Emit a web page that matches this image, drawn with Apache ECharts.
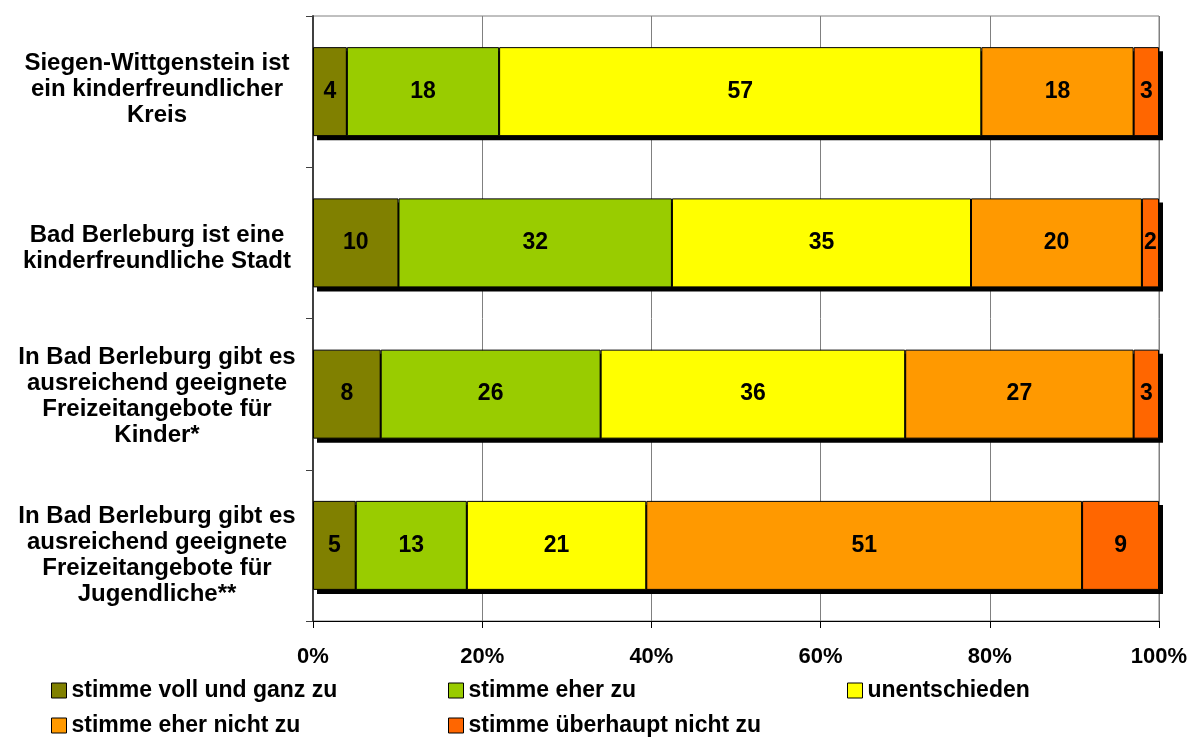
<!DOCTYPE html>
<html>
<head>
<meta charset="utf-8">
<title>Kinderfreundlichkeit</title>
<script src="https://cdn.jsdelivr.net/npm/echarts@6/dist/echarts.min.js"></script>
<style>
    html, body { margin: 0; padding: 0; background: #fff; }
    #chart { width: 1192px; height: 738px; }
</style>
</head>
<body>
<div id="chart"></div>
<script>
// Kategorien (von oben nach unten)
const categories = [
    'Siegen-Wittgenstein ist\nein kinderfreundlicher\nKreis',
    'Bad Berleburg ist eine\nkinderfreundliche Stadt',
    'In Bad Berleburg gibt es\nausreichend geeignete\nFreizeitangebote für\nKinder*',
    'In Bad Berleburg gibt es\nausreichend geeignete\nFreizeitangebote für\nJugendliche**'
]
const seriesNames = [
    'stimme voll und ganz zu',
    'stimme eher zu',
    'unentschieden',
    'stimme eher nicht zu',
    'stimme überhaupt nicht zu'
]
// Werte in Prozent, wie beschriftet
const vollUndGanz = [4, 10, 8, 5]
const eherZu = [18, 32, 26, 13]
const unentschieden = [57, 35, 36, 21]
const eherNicht = [18, 20, 27, 51]
const ueberhauptNicht = [3, 2, 3, 9]
const xTicks = [0, 20, 40, 60, 80, 100]

const colors = ['#808000', '#99CC00', '#FFFF00', '#FF9900', '#FF6600']
const raw = [vollUndGanz, eherZu, unentschieden, eherNicht, ueberhauptNicht]

// jede Zeile auf 100% normiert (Balken enden alle bei 100%)
const rowSums = categories.map((c, i) => raw.reduce((s, arr) => s + arr[i], 0))
const shares = raw.map(arr => arr.map((v, i) => v / rowSums[i] * 100))
const totals = categories.map((c, i) => shares.reduce((s, arr) => s + arr[i], 0))

const font = 'Liberation Sans, Arial, sans-serif'
// kleine vertikale Verschiebung der Achsenbeschriftungen (px, nach unten)
const labelShift = [-2, 5, 2, 10]

const chart = echarts.init(document.getElementById('chart'))

const series = shares.map((arr, si) => ({
    name: seriesNames[si],
    type: 'bar',
    stack: 'total',
    barWidth: 89,
    z: 3,
    data: arr,
    itemStyle: {
        color: colors[si],
        borderColor: '#000',
        borderWidth: 1
    },
    label: {
        show: true,
        position: 'inside',
        color: '#000',
        fontFamily: font,
        fontWeight: 'bold',
        fontSize: 23,
        formatter: p => raw[p.seriesIndex][p.dataIndex]
    },
    emphasis: { disabled: true }
}))

// Schatten hinter den Balken (zweites, versetztes Koordinatensystem)
series.push({
    name: 'schatten',
    type: 'bar',
    xAxisIndex: 1,
    yAxisIndex: 1,
    barWidth: 89,
    z: 1,
    silent: true,
    data: totals,
    itemStyle: { color: '#000' },
    label: { show: false }
})

// Legende: zwei Zeilen, drei Spalten
const legendPos = [[51, 679], [448, 679], [847, 679], [51, 714], [448, 714]]
const legends = seriesNames.map((n, i) => ({
    data: [n],
    left: legendPos[i][0],
    top: legendPos[i][1],
    padding: 0,
    icon: 'rect',
    itemWidth: 15,
    itemHeight: 15,
    itemGap: 0,
    selectedMode: false,
    itemStyle: { borderColor: '#000', borderWidth: 1 },
    textStyle: {
        color: '#000',
        fontFamily: font,
        fontWeight: 'bold',
        fontSize: 23
    }
}))

// Abstandshalter als Rich-Text-Zeile
const rich = {}
labelShift.forEach((s, i) => {
    const h = Math.max(1, Math.abs(s) * 2)
    rich['sp' + i] = { height: h, lineHeight: h, fontSize: 1 }
})

chart.setOption({
    animation: false,
    backgroundColor: '#fff',
    grid: [
        {
            left: 313,
            right: 33,
            top: 16,
            bottom: 117,
            outerBoundsMode: 'none',
            show: true,
            borderColor: '#808080',
            borderWidth: 1
        },
        { left: 317, right: 29, top: 20, bottom: 113, outerBoundsMode: 'none' }
    ],
    legend: legends,
    xAxis: [
        {
            type: 'value',
            gridIndex: 0,
            min: xTicks[0],
            max: xTicks[xTicks.length - 1],
            interval: xTicks[1] - xTicks[0],
            axisLine: { show: true, lineStyle: { color: '#000', width: 1 } },
            axisTick: { show: true, length: 7, lineStyle: { color: '#000' } },
            splitLine: { show: true, lineStyle: { color: '#808080', width: 1 } },
            axisLabel: {
                formatter: '{value}%',
                margin: 25,
                color: '#000',
                fontFamily: font,
                fontWeight: 'bold',
                fontSize: 22
            }
        },
        { type: 'value', gridIndex: 1, min: 0, max: 100, show: false }
    ],
    yAxis: [
        {
            type: 'category',
            gridIndex: 0,
            inverse: true,
            data: categories,
            axisLine: { show: true, lineStyle: { color: '#404040', width: 2 } },
            axisTick: { show: true, length: 7, lineStyle: { color: '#404040' } },
            splitLine: { show: false },
            axisLabel: {
                margin: 156,
                align: 'center',
                color: '#000',
                fontFamily: font,
                fontWeight: 'bold',
                fontSize: 24,
                lineHeight: 26,
                rich: rich,
                formatter: (value, idx) => {
                    const sp = '{sp' + idx + '| }'
                    return labelShift[idx] >= 0 ? sp + '\n' + value : value + '\n' + sp
                }
            }
        },
        { type: 'category', gridIndex: 1, inverse: true, data: categories, show: false }
    ],
    series: series
})
</script>
</body>
</html>
